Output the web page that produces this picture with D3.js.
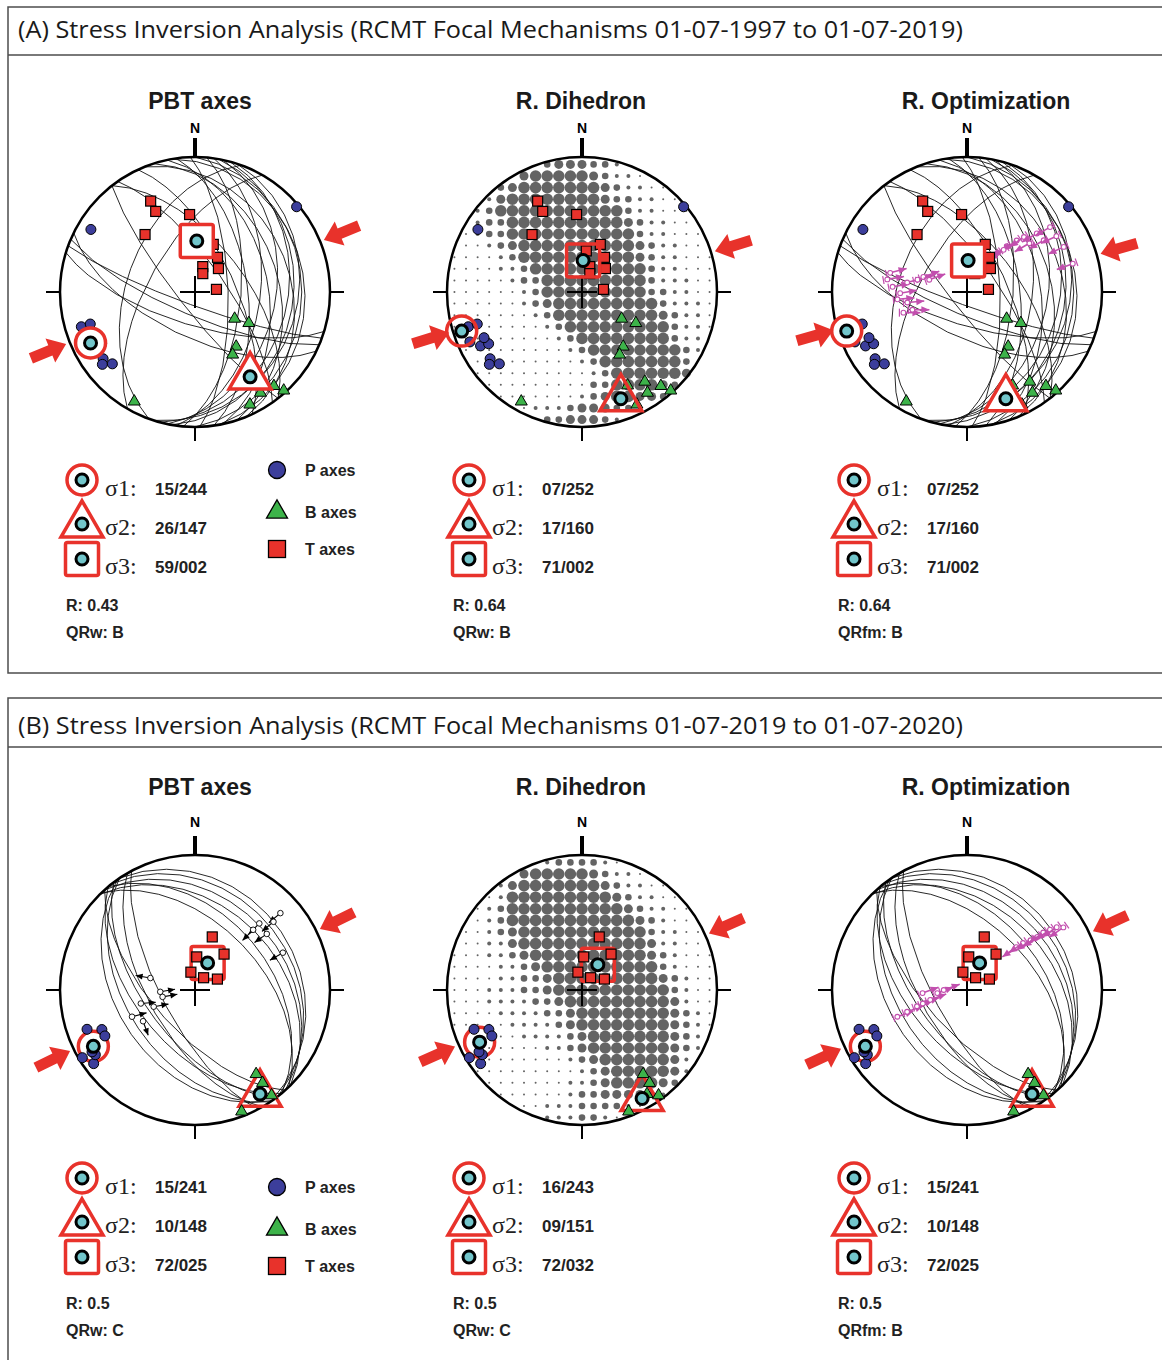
<!DOCTYPE html>
<html>
<head>
<meta charset="utf-8">
<script src="https://cdn.jsdelivr.net/npm/d3@7"></script>
<style>
body { margin: 0; background: #fff; }
svg { display: block; }
</style>
</head>
<body>
<svg id="chart" width="1162" height="1360"></svg>
<script>
// ---- data (axes as [trend, plunge], planes as [strike, dip]) ----
const headerA = "(A) Stress Inversion Analysis (RCMT Focal Mechanisms 01-07-1997 to 01-07-2019)"
const headerB = "(B) Stress Inversion Analysis (RCMT Focal Mechanisms 01-07-2019 to 01-07-2020)"
const netTitles = ["PBT axes", "R. Dihedron", "R. Optimization"]

const pAxesA = [[50,2],[301,11],[253,13],[253,20],[246,10],[242,16],[241,22],[234,17],[232,14],[229,20],[245,21]]
const bAxesA = [[124,61],[120,52],[143,48],[149,45],[154,24],[145,20],[147,12],[140,10],[138,2],[154,8],[209,8]]
const tAxesA = [[334,26],[334,34],[356,42],[319,43],[21,59],[33,65],[17,74],[45,70],[23,78],[83,77],[6,65]]

const pAxesB = [[250,16],[247,26],[243,26],[239,3],[234,8],[237,13],[239,12]]
const bAxesB = [[144,24],[144,16],[148,10],[144,4],[159,4]]
const tAxesB = [[18,56],[3,70],[39,62],[347,79],[35,81],[64,75]]

const planesA = [[5,62],[8,50],[12,40],[15,32],[18,25],[0,22],[10,28],[358,70],[352,58],[348,45],[342,38],[338,30],
                 [350,20],[335,66],[325,72],[322,60],[142,80],[110,82],[113,76],[107,70],[116,63],[210,62],[200,48]]
const planesB = [[315,38],[318,33],[322,28],[320,44],[326,24],[316,50],
                 [140,55],[143,60],[146,48],[138,65],[150,62],[145,42],[152,70]]

// stress axes "plunge/trend" for PBT, R. Dihedron, R. Optimization
const stressA = [["15/244","26/147","59/002"],["07/252","17/160","71/002"],["07/252","17/160","71/002"]]
const stressB = [["15/241","10/148","72/025"],["16/243","09/151","72/032"],["15/241","10/148","72/025"]]
const ratioA = ["0.43","0.64","0.64"]
const ratioB = ["0.5","0.5","0.5"]
const qualA = ["QRw: B","QRw: B","QRfm: B"]
const qualB = ["QRw: C","QRw: C","QRfm: B"]
const shmaxA = [248, 253, 254]
const shmaxB = [244, 246, 245]

// slip markers [trend, plunge, arrow azimuth]
const slipB = [[48,16,230],[49,24,230],[44,32,225],[52,33,235],[67,30,240],[44,38,225],
               [285,62,280],[267,69,80],[256,56,85],[247,48,75],[239,53,160],[248,63,80],[258,70,80]]
const misfitA = [[279,40,80],[274,44,80],[269,49,80],[279,53,75],[284,59,75],[289,62,70],[288,66,70],
                 [264,47,85],[260,53,85],[252,49,90],[252,55,90],[284,41,75],
                 [38,60,235],[41,53,235],[44,46,235],[46,41,235],[52,41,240],[50,33,240],
                 [56,32,240],[52,23,240],[58,23,245],[65,22,245],[75,20,250],[41,56,235]]
const misfitB = [[49,50,235],[50,45,235],[52,40,235],[53,35,235],[53,30,235],[54,25,235],[55,20,235],[57,16,235],
                 [249,44,70],[250,51,70],[252,58,70],[253,62,70],[255,67,70],[264,72,70],[270,76,70],[266,63,70]]

// right dihedron dot size levels (0-5), 23 x 23 grid
const dihedronA = [
"00000000344433200000000",
"00000045555543221000000",
"00003455555554322110000",
"00024555555554332211000",
"00235555555555532211100",
"00233555555555543221100",
"01233555555555553221110",
"01123455555555554322110",
"11112355555555554322111",
"11112235555555555322111",
"11111233555555555322211",
"11111123555555555332211",
"11111123455555555532221",
"11111112355555555543221",
"11111111235555555553221",
"01111111123555555553220",
"01111111112355555555320",
"00111111111235555555300",
"00111111111123555555400",
"00011111111133555543000",
"00001111111234554430000",
"00000012223444332000000",
"00000000334443200000000"]
const dihedronB = [
"00000000233332100000000",
"00000045555543221000000",
"00002455555554322110000",
"00012555555555432211000",
"00123555555555543221100",
"00123555555555554321100",
"01123455555555555322110",
"01122455555555555422110",
"11122345555555555432111",
"11112234555555555532111",
"11112233455555555543211",
"11122233455555555553211",
"11122223345555555554211",
"11112222334555555554321",
"11111222234555555554321",
"01111122223455555554320",
"01111111223455555554320",
"00111111112345555554200",
"00111111111234555554200",
"00011111112234555543000",
"00001111112334444320000",
"00000011222333321000000",
"00000000222332100000000"]

// ---- layout ----
const R = 135
const NET_X = [195, 582, 967]
const TITLE_X = [200, 581, 986]
const DOT_R = [0, 1, 2, 3.3, 4.5, 5.8]
const RED = '#e8322b', CYAN = '#72c6cb', BLUE = '#3c3e9b', GREEN = '#3db34a', PINK = '#c24fae'
const SANS = 'Liberation Sans, Arial, sans-serif'

const panels = [
  {header: headerA, top: 7, bottom: 673, headLine: 55, textY: 38, cy: 292, titleY: 109, nY: 133, leg: 0, pbtLeg: 0,
   P: pAxesA, B: bAxesA, T: tAxesA, planes: planesA, grid: dihedronA, stress: stressA,
   ratio: ratioA, qual: qualA, shmax: shmaxA, slip: [], misfit: misfitA, fillOutline: true},
  {header: headerB, top: 698, bottom: 1380, headLine: 747, textY: 733.5, cy: 990, titleY: 795, nY: 827, leg: 698, pbtLeg: 717,
   P: pAxesB, B: bAxesB, T: tAxesB, planes: planesB, grid: dihedronB, stress: stressB,
   ratio: ratioB, qual: qualB, shmax: shmaxB, slip: slipB, misfit: misfitB, fillOutline: false}
]

const svg = d3.select('#chart')
const rad = Math.PI / 180

function triPath(s) {
  const h = s * Math.sqrt(3) / 2
  return `M0,${-2*h/3}L${s/2},${h/3}L${-s/2},${h/3}Z`
}

function planeLine(strike, dip) {
  const ll = (t, p) => [180 - t, p]
  return {type: 'LineString', coordinates: [ll(strike, 0), ll(strike + 90, dip), ll(strike + 180, 0)]}
}

// slip line marker: small open circle with an arrow
function marker(g, x, y, az, color, heavy) {
  const len = heavy ? 17 : 15
  const ex = x + len * Math.sin(az * rad), ey = y - len * Math.cos(az * rad)
  g.append('line').attr('x1', x).attr('y1', y).attr('x2', ex).attr('y2', ey)
    .attr('stroke', color).attr('stroke-width', heavy ? 1.6 : 1.1)
  g.append('path').attr('d', heavy ? 'M0,0L-8,-3.5L-8,3.5Z' : 'M0,0L-7,-3L-7,3Z').attr('fill', color)
    .attr('transform', `translate(${ex},${ey}) rotate(${az - 90})`)
  if (heavy) {
    const tx = x - 4 * Math.sin(az * rad), ty = y + 4 * Math.cos(az * rad)
    g.append('path').attr('d', 'M0,-4L0,4').attr('stroke', color).attr('stroke-width', 1.2)
      .attr('transform', `translate(${tx},${ty}) rotate(${az - 90})`)
  }
  g.append('circle').attr('cx', x).attr('cy', y).attr('r', heavy ? 2.4 : 2.8)
    .attr('fill', 'white').attr('stroke', color).attr('stroke-width', heavy ? 1.1 : 0.9)
}

function drawOutline(g, kind, x, y, fill) {
  if (kind === 0) {
    g.append('circle').attr('cx', x).attr('cy', y).attr('r', 15)
      .attr('fill', fill).attr('stroke', RED).attr('stroke-width', 3.5)
  } else if (kind === 1) {
    g.append('path').attr('d', triPath(42)).attr('transform', `translate(${x},${y})`)
      .attr('fill', fill).attr('stroke', RED).attr('stroke-width', 3.5).attr('stroke-linejoin', 'miter')
  } else {
    g.append('rect').attr('x', x - 16.5).attr('y', y - 16.5).attr('width', 33).attr('height', 33).attr('rx', 2)
      .attr('fill', fill).attr('stroke', RED).attr('stroke-width', 3.5)
  }
}

function drawNet(p, n) {
  const cx = NET_X[n], cy = p.cy
  const proj = d3.geoAzimuthalEqualArea().rotate([0, -90]).scale(R / Math.SQRT2).translate([cx, cy])
  const path = d3.geoPath(proj)
  const pt = d => proj([180 - d[0], d[1]])
  const g = svg.append('g')

  if (n === 1) {
    const gx = d3.scaleLinear().domain([-11.64, 11.64]).range([cx - R, cx + R])
    const gy = d3.scaleLinear().domain([-11.64, 11.64]).range([cy - R, cy + R])
    const cells = []
    p.grid.forEach((row, k) => row.split('').forEach((c, j) => {
      const di = j - 11, dk = k - 11
      if (+c > 0 && Math.hypot(di, dk) < 11.55) cells.push({i: di, k: dk, v: +c})
    }))
    g.selectAll('.dot').data(cells).join('circle')
      .attr('cx', d => gx(d.i)).attr('cy', d => gy(d.k)).attr('r', d => DOT_R[d.v])
      .attr('fill', '#646464')
  } else {
    g.selectAll('.plane').data(p.planes).join('path')
      .attr('d', d => path(planeLine(d[0], d[1])))
      .attr('fill', 'none').attr('stroke', '#111').attr('stroke-width', 0.9)
  }

  // primitive, ticks, centre cross
  g.append('circle').attr('cx', cx).attr('cy', cy).attr('r', R)
    .attr('fill', 'none').attr('stroke', '#000').attr('stroke-width', 2.5)
  g.append('line').attr('x1', cx).attr('x2', cx).attr('y1', cy - R - 19).attr('y2', cy - R)
    .attr('stroke', '#000').attr('stroke-width', 4)
  ;[[-1, 0], [1, 0], [0, 1]].forEach(([dx, dy]) => {
    g.append('line').attr('x1', cx + dx * R).attr('y1', cy + dy * R)
      .attr('x2', cx + dx * (R + 14)).attr('y2', cy + dy * (R + 14))
      .attr('stroke', '#000').attr('stroke-width', 2)
  })
  g.append('line').attr('x1', cx - 15).attr('x2', cx + 15).attr('y1', cy).attr('y2', cy)
    .attr('stroke', '#000').attr('stroke-width', 2)
  g.append('line').attr('x1', cx).attr('x2', cx).attr('y1', cy - 16).attr('y2', cy + 16)
    .attr('stroke', '#000').attr('stroke-width', 2)

  if (n === 0) p.slip.forEach(d => { const q = pt(d); marker(g, q[0], q[1], d[2], '#000', false) })
  if (n === 2) p.misfit.forEach(d => { const q = pt(d); marker(g, q[0], q[1], d[2], PINK, true) })

  const sig = p.stress[n].map(s => { const [pl, tr] = s.split('/').map(Number); return pt([tr, pl]) })
  const fill = (p.fillOutline && n !== 1) ? 'white' : 'none'
  if (!p.fillOutline) sig.forEach((q, i) => drawOutline(g, i, q[0], q[1], 'none'))

  g.selectAll('.pax').data(p.P).join('circle')
    .attr('cx', d => pt(d)[0]).attr('cy', d => pt(d)[1]).attr('r', 5)
    .attr('fill', BLUE).attr('stroke', '#000').attr('stroke-width', 1)
  g.selectAll('.bax').data(p.B).join('path')
    .attr('d', triPath(12)).attr('transform', d => `translate(${pt(d)})`)
    .attr('fill', GREEN).attr('stroke', '#000').attr('stroke-width', 1)
  g.selectAll('.tax').data(p.T).join('rect')
    .attr('x', d => pt(d)[0] - 5).attr('y', d => pt(d)[1] - 5).attr('width', 10).attr('height', 10)
    .attr('fill', RED).attr('stroke', '#000').attr('stroke-width', 1.2)

  if (p.fillOutline) sig.forEach((q, i) => drawOutline(g, i, q[0], q[1], fill))
  sig.forEach(q => {
    g.append('circle').attr('cx', q[0]).attr('cy', q[1]).attr('r', 6)
      .attr('fill', CYAN).attr('stroke', '#000').attr('stroke-width', 3)
  })

  // SHmax arrows
  const sh = p.shmax[n]
  ;[sh, sh + 180].forEach(az => {
    const px = cx + 158 * Math.sin(az * rad), py = cy - 158 * Math.cos(az * rad)
    const ang = Math.atan2(cy - py, cx - px) / rad
    g.append('path').attr('d', 'M-19,-5.5L2,-5.5L2,-13L19,0L2,13L2,5.5L-19,5.5Z')
      .attr('transform', `translate(${px},${py}) rotate(${ang})`).attr('fill', RED)
  })

  // titles
  svg.append('text').attr('x', TITLE_X[n]).attr('y', p.titleY).attr('text-anchor', 'middle')
    .style('font-family', SANS).style('font-weight', 'bold').style('font-size', '23px').attr('fill', '#1a1a1a')
    .text(netTitles[n])
  svg.append('text').attr('x', cx).attr('y', p.nY).attr('text-anchor', 'middle')
    .style('font-family', SANS).style('font-weight', 'bold').style('font-size', '14px').text('N')

  // stress legend
  const lg = svg.append('g')
  const mx = cx - 113
  const markY = [480, 524, 559].map(v => v + p.leg)
  const txtY = [496, 535, 574].map(v => v + p.leg)
  markY.forEach((y, i) => {
    drawOutline(lg, i, mx, i === 1 ? y + 1 : y, 'none')
    lg.append('circle').attr('cx', mx).attr('cy', y).attr('r', 6)
      .attr('fill', CYAN).attr('stroke', '#000').attr('stroke-width', 3)
    lg.append('text').attr('x', cx - 90).attr('y', txtY[i])
      .style('font-family', 'Liberation Serif, Times New Roman, serif').style('font-size', '24px').attr('fill', '#222')
      .text('σ' + (i + 1) + ':')
    lg.append('text').attr('x', cx - 40).attr('y', txtY[i] - 1)
      .style('font-family', SANS).style('font-weight', 'bold').style('font-size', '17px').attr('fill', '#222')
      .text(p.stress[n][i])
  })
  lg.append('text').attr('x', cx - 129).attr('y', 611 + p.leg)
    .style('font-family', SANS).style('font-weight', 'bold').style('font-size', '16px').attr('fill', '#222')
    .text('R: ' + p.ratio[n])
  lg.append('text').attr('x', cx - 129).attr('y', 638 + p.leg)
    .style('font-family', SANS).style('font-weight', 'bold').style('font-size', '16px').attr('fill', '#222')
    .text(p.qual[n])

  if (n === 0) {
    const ly = [470, 512, 549].map(v => v + p.pbtLeg)
    lg.append('circle').attr('cx', 277).attr('cy', ly[0]).attr('r', 8.5)
      .attr('fill', BLUE).attr('stroke', '#000').attr('stroke-width', 1.3)
    lg.append('path').attr('d', triPath(21)).attr('transform', `translate(277,${ly[1]})`)
      .attr('fill', GREEN).attr('stroke', '#000').attr('stroke-width', 1.3)
    lg.append('rect').attr('x', 268.5).attr('y', ly[2] - 8.5).attr('width', 17).attr('height', 17)
      .attr('fill', RED).attr('stroke', '#000').attr('stroke-width', 1.3)
    ;['P axes', 'B axes', 'T axes'].forEach((s, i) => {
      lg.append('text').attr('x', 305).attr('y', ly[i] + 6)
        .style('font-family', SANS).style('font-weight', 'bold').style('font-size', '16px').attr('fill', '#222')
        .text(s)
    })
  }
}

panels.forEach(p => {
  svg.append('rect').attr('x', 8).attr('y', p.top).attr('width', 1170).attr('height', p.bottom - p.top)
    .attr('fill', 'none').attr('stroke', '#4d4d4d').attr('stroke-width', 1.5)
  svg.append('line').attr('x1', 8).attr('x2', 1170).attr('y1', p.headLine).attr('y2', p.headLine)
    .attr('stroke', '#4d4d4d').attr('stroke-width', 1.5)
  svg.append('text').attr('x', 18).attr('y', p.textY)
    .style('font-family', 'Open Sans, Noto Sans, sans-serif').style('font-size', '23px').attr('fill', '#1a1a1a')
    .attr('textLength', 945).attr('lengthAdjust', 'spacingAndGlyphs')
    .text(p.header)
  for (let n = 0; n < 3; n++) drawNet(p, n)
})
</script>
</body>
</html>
